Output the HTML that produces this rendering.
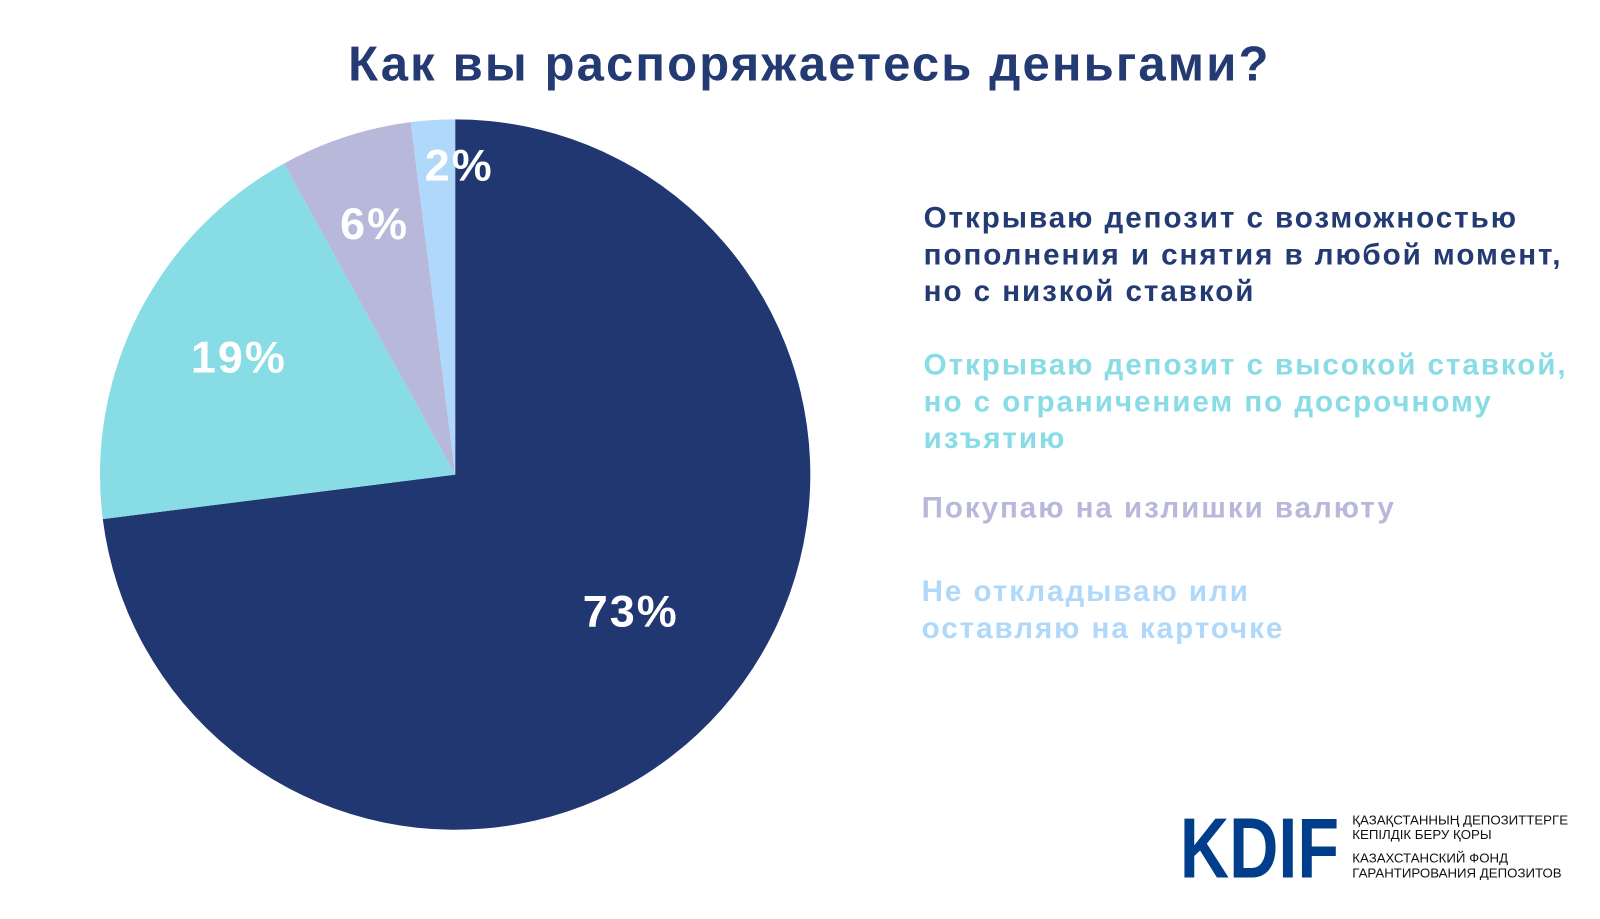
<!DOCTYPE html>
<html><head><meta charset="utf-8"><style>
body{margin:0;width:1600px;height:900px;background:#fff;font-family:"Liberation Sans","DejaVu Sans",sans-serif;position:relative;overflow:hidden}
#w{position:absolute;left:0;top:0;width:1570px;height:882px;transform:scale(1.0206);transform-origin:0 0}
.t{position:absolute;font-weight:bold;white-space:nowrap}
.l{font-size:29px;line-height:36px;letter-spacing:1.9px}
</style></head><body><div id="w">
<div class="t" style="left:0;width:1586px;text-align:center;top:36px;font-size:48px;letter-spacing:2.1px;color:#233a72">Как вы распоряжаетесь деньгами?</div>
<svg width="1600" height="900" style="position:absolute;left:0;top:0">
<path d="M446,465 L446,117 A348,348 0 1 1 100.7,508.6 Z" fill="#213772"/>
<path d="M446,465 L100.7,508.6 A348,348 0 0 1 278.3,160.2 Z" fill="#88dce6"/>
<path d="M446,465 L278.3,160.2 A348,348 0 0 1 402.4,119.7 Z" fill="#b8b8da"/>
<path d="M446,465 L402.4,119.7 A348,348 0 0 1 446,117 Z" fill="#b0d8fb"/>
<g font-family="Liberation Sans, sans-serif" font-weight="bold" font-size="44" fill="#fff" text-anchor="middle" letter-spacing="2">
<text x="618" y="614">73%</text>
<text x="234" y="365">19%</text>
<text x="367" y="234">6%</text>
<text x="450" y="177">2%</text>
</g>
<text x="1156" y="860" font-family="Liberation Sans, sans-serif" font-weight="bold" font-size="84" fill="#003d8a" textLength="156" lengthAdjust="spacingAndGlyphs">KDIF</text>
<g font-family="Liberation Sans, sans-serif" font-size="13" fill="#111">
<text x="1325" y="808">ҚАЗАҚСТАННЫҢ ДЕПОЗИТТЕРГЕ</text>
<text x="1325" y="822">КЕПІЛДІК БЕРУ ҚОРЫ</text>
<text x="1325" y="845">КАЗАХСТАНСКИЙ ФОНД</text>
<text x="1325" y="860">ГАРАНТИРОВАНИЯ ДЕПОЗИТОВ</text>
</g>
</svg>
<div class="t l" style="left:905px;top:196px;color:#233a72">Открываю депозит с возможностью<br>пополнения и снятия в любой момент,<br>но с низкой ставкой</div>
<div class="t l" style="left:905px;top:340px;color:#88dce6">Открываю депозит с высокой ставкой,<br>но с ограничением по досрочному<br>изъятию</div>
<div class="t l" style="left:903px;top:480px;color:#b8b8da">Покупаю на излишки валюту</div>
<div class="t l" style="left:903px;top:562px;color:#b0d8fb">Не откладываю или<br>оставляю на карточке</div>
</div></body></html>
